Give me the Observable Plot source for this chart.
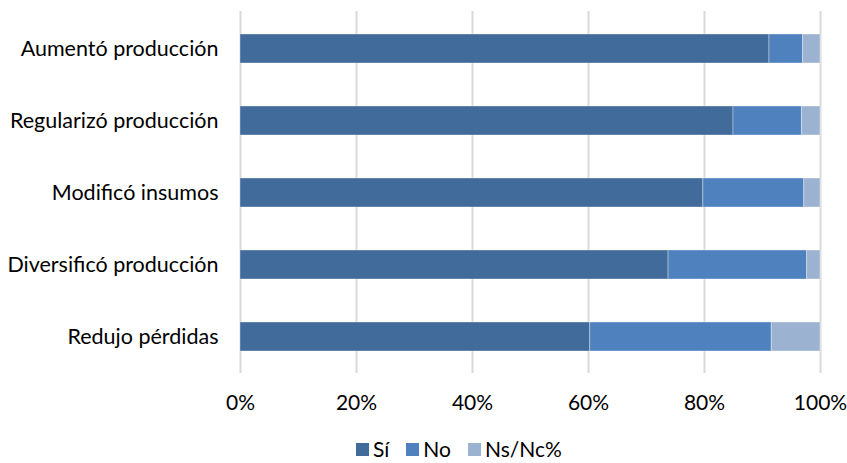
<!DOCTYPE html>
<html lang="es">
<head>
<meta charset="utf-8">
<script src="https://cdn.jsdelivr.net/npm/d3@7"></script>
<script src="https://cdn.jsdelivr.net/npm/@observablehq/plot@0.6"></script>
<style>
  html, body { margin: 0; padding: 0; background: #fff; }
  #wrap { position: relative; width: 847px; height: 463px; font-family: Lato, "Open Sans", sans-serif; color: #000; }
  #legend { position: absolute; left: 356px; top: 440px; display: flex; align-items: center; font-size: 21px; line-height: 18px; }
  #legend .item { display: flex; align-items: center; margin-right: 17px; }
  #legend .sw { width: 13px; height: 13px; margin-right: 4px; }
  .yax text { font-size: 21.5px; }
</style>
</head>
<body>
<div id="wrap">
  <div id="chart"></div>
  <div id="legend"></div>
</div>
<script>
// Acciones realizadas (porcentaje de respuestas)
const categories = [
  "Aumentó producción",
  "Regularizó producción",
  "Modificó insumos",
  "Diversificó producción",
  "Redujo pérdidas"
];
const seriesNames = ["Sí", "No", "Ns/Nc%"];
const si   = [91.2, 85.0, 79.8, 73.8, 60.3];
const no   = [5.8, 11.8, 17.4, 23.9, 31.3];
const nsnc = [3.0, 3.2, 2.8, 2.3, 8.4];
const seriesColors = ["#416b9b", "#4e81bd", "#9cb2d1"];
const xTicks = [0, 20, 40, 60, 80, 100];

const seriesValues = [si, no, nsnc];
const rows = [];
categories.forEach((c, i) => {
  seriesNames.forEach((s, j) => {
    rows.push({ category: c, series: s, value: seriesValues[j][i] });
  });
});

const chart = Plot.plot({
  width: 847,
  height: 425,
  marginTop: 11,
  marginBottom: 52,
  marginLeft: 240,
  marginRight: 27,
  style: { fontFamily: "Lato, 'Open Sans', sans-serif", fontSize: "21px", color: "#000", background: "#fff" },
  x: { domain: [0, 100], ticks: xTicks, tickFormat: d => d + "%", label: null },
  y: { domain: categories, paddingInner: 0.6, paddingOuter: 0.3, label: null },
  color: { domain: seriesNames, range: seriesColors },
  marks: [
    Plot.ruleX(xTicks, { stroke: "#d9d9d9", strokeWidth: 2 }),
    Plot.barX(rows, {
      y: "category",
      x: "value",
      fill: "series",
      stroke: "#fff",
      strokeOpacity: 0.35,
      strokeWidth: 1
    }),
    Plot.axisX({ ticks: xTicks, tickFormat: d => d + "%", tickSize: 0, tickPadding: 22, label: null }),
    Plot.axisY({ tickSize: 0, tickPadding: 22, label: null, className: "yax" })
  ]
});
document.getElementById("chart").appendChild(chart);

const legend = document.getElementById("legend");
seriesNames.forEach((s, j) => {
  const item = document.createElement("div");
  item.className = "item";
  const sw = document.createElement("span");
  sw.className = "sw";
  sw.style.background = seriesColors[j];
  const label = document.createElement("span");
  label.textContent = s;
  item.appendChild(sw);
  item.appendChild(label);
  legend.appendChild(item);
});
</script>
</body>
</html>
